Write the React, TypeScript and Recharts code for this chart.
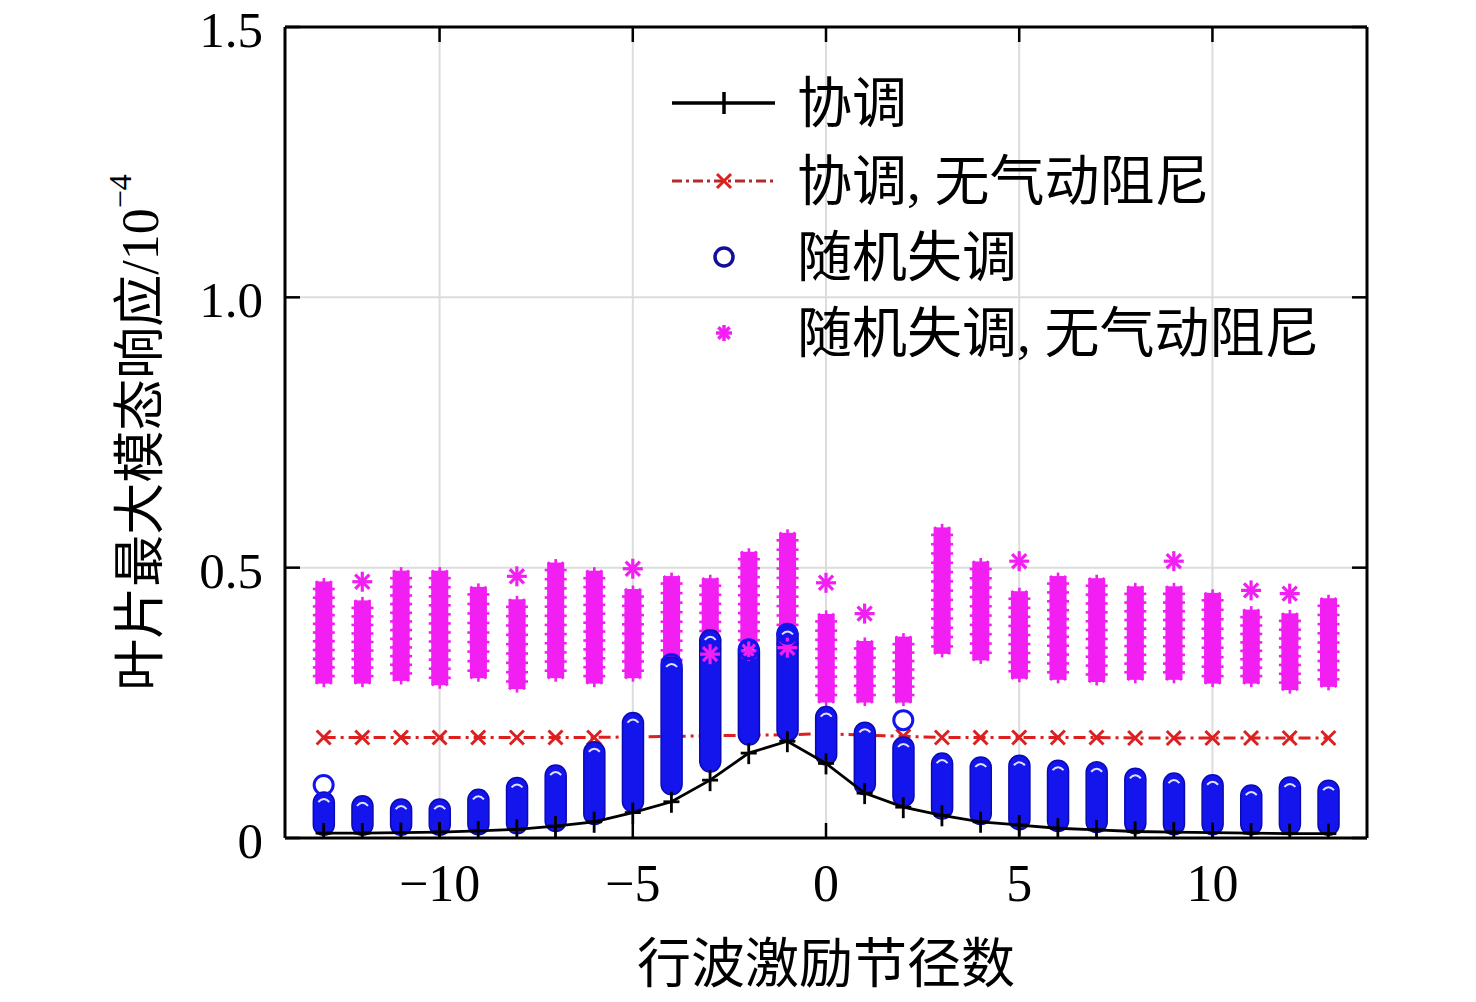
import { Bar, CartesianGrid, ComposedChart, Label, Line, Scatter, XAxis, YAxis } from "recharts";

// travelling-wave excitation nodal diameter
const NODES = [-13, -12, -11, -10, -9, -8, -7, -6, -5, -4, -3, -2, -1, 0, 1, 2, 3, 4, 5, 6, 7, 8, 9, 10, 11, 12, 13];

// 协调
const TUNED = [0.009, 0.009, 0.01, 0.011, 0.013, 0.016, 0.022, 0.03, 0.047, 0.067, 0.107, 0.157, 0.179, 0.138, 0.083, 0.057, 0.042, 0.03, 0.024, 0.018, 0.015, 0.012, 0.011, 0.01, 0.009, 0.008, 0.008];

// 协调, 无气动阻尼
const TUNED_NO_AERO = [0.186, 0.186, 0.186, 0.186, 0.186, 0.186, 0.186, 0.186, 0.187, 0.188, 0.189, 0.19, 0.191, 0.193, 0.19, 0.188, 0.186, 0.186, 0.186, 0.186, 0.186, 0.185, 0.185, 0.185, 0.185, 0.185, 0.185];

// 随机失调: spread of the samples at each node (min / max)
const MISTUNED_LO = [0.005, 0.005, 0.005, 0.005, 0.006, 0.008, 0.012, 0.025, 0.048, 0.08, 0.122, 0.172, 0.18, 0.135, 0.08, 0.058, 0.035, 0.025, 0.015, 0.012, 0.01, 0.008, 0.006, 0.006, 0.006, 0.006, 0.005];
const MISTUNED_HI = [0.085, 0.078, 0.072, 0.072, 0.09, 0.112, 0.135, 0.178, 0.232, 0.335, 0.385, 0.365, 0.395, 0.243, 0.214, 0.187, 0.157, 0.15, 0.153, 0.144, 0.141, 0.129, 0.12, 0.117, 0.098, 0.113, 0.107];

// 随机失调, 无气动阻尼
const NO_AERO_LO = [0.28, 0.28, 0.285, 0.277, 0.29, 0.27, 0.29, 0.28, 0.29, 0.31, 0.33, 0.33, 0.34, 0.245, 0.245, 0.245, 0.335, 0.323, 0.289, 0.287, 0.283, 0.287, 0.287, 0.28, 0.28, 0.268, 0.274];
const NO_AERO_HI = [0.48, 0.445, 0.5, 0.5, 0.47, 0.447, 0.515, 0.5, 0.466, 0.49, 0.486, 0.535, 0.57, 0.42, 0.37, 0.378, 0.58, 0.517, 0.462, 0.49, 0.486, 0.471, 0.471, 0.459, 0.428, 0.421, 0.449];

// isolated samples
const RING_X = [-13, 2, -4, -2, -1];
const RING_Y = [0.098, 0.218, 0.322, 0.349, 0.378];
const STAR_X = [-12, -8, -5, 0, 1, 5, 9, 11, 12, -3, -2, -1];
const STAR_Y = [0.474, 0.484, 0.498, 0.472, 0.415, 0.512, 0.512, 0.458, 0.452, 0.34, 0.346, 0.352];

const X_TICKS = [-10, -5, 0, 5, 10];
const Y_TICKS = [0, 0.5, 1, 1.5];

const LEGEND_LABELS = ["协调", "协调, 无气动阻尼", "随机失调", "随机失调, 无气动阻尼"];

const W = 1460;
const H = 986;
const FONT = '"Liberation Serif", "Times New Roman", "Noto Sans CJK SC", serif';
const BLUE = "#1414ec";
const BLUE_DARK = "#0a0ab4";
const MAGENTA = "#f21ff2";
const RED = "#dc2020";

const rows = NODES.map((node, i) => ({
  node,
  tuned: TUNED[i],
  noAero: TUNED_NO_AERO[i],
  mistuned: [MISTUNED_LO[i], MISTUNED_HI[i]],
  mistunedNoAero: [NO_AERO_LO[i], NO_AERO_HI[i]],
}));

const rings = RING_X.map((node, i) => ({ node, val: RING_Y[i] }));
const stars = STAR_X.map((node, i) => ({ node, val: STAR_Y[i] }));

const fmtX = (v: number) => (v < 0 ? `\u2212${Math.abs(v)}` : `${v}`);
const fmtY = (v: number) => (v === 0 ? "0" : v.toFixed(1));

function Star({ cx, cy, r, color = MAGENTA, w = 3 }: any) {
  const d = r * 0.707;
  return (
    <g stroke={color} strokeWidth={w}>
      <line x1={cx - r} y1={cy} x2={cx + r} y2={cy} />
      <line x1={cx} y1={cy - r} x2={cx} y2={cy + r} />
      <line x1={cx - d} y1={cy - d} x2={cx + d} y2={cy + d} />
      <line x1={cx - d} y1={cy + d} x2={cx + d} y2={cy - d} />
    </g>
  );
}

function MistunedShape(props: any) {
  const { x, y, width, height } = props;
  if (x == null || height == null) return null;
  const r = width / 2;
  const h = Math.max(height, width);
  return (
    <g>
      <rect x={x} y={y} width={width} height={h} rx={r} ry={r} fill={BLUE} stroke={BLUE_DARK} strokeWidth={1.5} />
      <path
        d={`M${x + 5},${y + 10} Q${x + r},${y + 4} ${x + width - 5},${y + 10}`}
        stroke="#dfe0ff"
        strokeWidth={2}
        fill="none"
      />
    </g>
  );
}

function NoAeroShape(props: any) {
  const { x, y, width, height } = props;
  if (x == null || height == null) return null;
  const r = width / 2;
  const cx = x + r;
  const top = y + r;
  const span = Math.max(height - width, 0);
  const n = Math.max(1, Math.round(span / 9));
  const marks = [];
  for (let i = 0; i <= n; i++) {
    marks.push(<Star key={i} cx={cx} cy={top + (span * i) / n} r={r + 0.5} w={2.6} />);
  }
  return (
    <g>
      <rect x={x + 2} y={y + 3} width={width - 4} height={Math.max(height - 6, 0)} fill={MAGENTA} />
      {marks}
    </g>
  );
}

const RingShape = (props: any) =>
  props.cx == null ? null : (
    <circle cx={props.cx} cy={props.cy} r={9.5} fill="none" stroke={BLUE} strokeWidth={3} />
  );

const StarShape = (props: any) =>
  props.cx == null ? null : <Star cx={props.cx} cy={props.cy} r={10} w={3.2} />;

const PlusDot = (props: any) => {
  const { cx, cy, index } = props;
  if (cx == null) return null;
  return (
    <g key={`p${index}`} stroke="#000" strokeWidth={2.8}>
      <line x1={cx} y1={cy - 10} x2={cx} y2={cy + 11} />
      <line x1={cx - 8} y1={cy} x2={cx + 8} y2={cy} />
    </g>
  );
};

const CrossDot = (props: any) => {
  const { cx, cy } = props;
  if (cx == null) return null;
  return (
    <g stroke={RED} strokeWidth={3}>
      <line x1={cx - 7} y1={cy - 7} x2={cx + 7} y2={cy + 7} />
      <line x1={cx - 7} y1={cy + 7} x2={cx + 7} y2={cy - 7} />
    </g>
  );
};

const BottomTick = ({ x, y, payload }: any) => (
  <g>
    <line x1={x} y1={y} x2={x} y2={y - 15} stroke="#000" strokeWidth={2.5} />
    <text x={x} y={y + 45} textAnchor="middle" dominantBaseline="central" fontSize={52} fontFamily={FONT} fill="#000">
      {fmtX(payload.value)}
    </text>
  </g>
);

const TopTick = ({ x, y }: any) => <line x1={x} y1={y} x2={x} y2={y + 15} stroke="#000" strokeWidth={2.5} />;

const LeftTick = ({ x, y, payload }: any) => (
  <g>
    <line x1={x} y1={y} x2={x + 15} y2={y} stroke="#000" strokeWidth={2.5} />
    <text x={x - 22} y={y + 3} textAnchor="end" dominantBaseline="central" fontSize={51} fontFamily={FONT} fill="#000">
      {fmtY(payload.value)}
    </text>
  </g>
);

const RightTick = ({ x, y }: any) => <line x1={x} y1={y} x2={x - 15} y2={y} stroke="#000" strokeWidth={2.5} />;

const YTitle = ({ viewBox }: any) => {
  const cx = viewBox.x + 132;
  const cy = viewBox.y + viewBox.height / 2;
  return (
    <text
      x={cx}
      y={cy}
      transform={`rotate(-90 ${cx} ${cy})`}
      textAnchor="middle"
      dominantBaseline="central"
      fontSize={52}
      fontFamily={FONT}
      fill="#000"
    >
      叶片最大模态响应/10
      <tspan dy={-20} fontSize={32}>
        −4
      </tspan>
    </text>
  );
};

const XTitle = ({ viewBox }: any) => (
  <text
    x={viewBox.x + viewBox.width / 2}
    y={viewBox.y + 127}
    textAnchor="middle"
    dominantBaseline="central"
    fontSize={54}
    fontFamily={FONT}
    fill="#000"
  >
    行波激励节径数
  </text>
);

function LegendBox() {
  const ys = [95, 173, 249, 325];
  const x0 = 664;
  const x1 = 767;
  const mx = 716;
  return (
    <svg width={W} height={H} style={{ position: "absolute", left: 0, top: 0, pointerEvents: "none" }}>
      <g>
        <line x1={x0} y1={ys[0]} x2={x1} y2={ys[0]} stroke="#000" strokeWidth={3.5} />
        <line x1={mx} y1={ys[0] - 11} x2={mx} y2={ys[0] + 11} stroke="#000" strokeWidth={3.5} />
      </g>
      <g>
        <line x1={x0} y1={ys[1]} x2={x1} y2={ys[1]} stroke="#b42a2a" strokeWidth={3} strokeDasharray="10 4 3 4" />
        <CrossDot cx={mx} cy={ys[1]} />
      </g>
      <circle cx={mx} cy={ys[2]} r={9} fill="none" stroke="#10109a" strokeWidth={3.5} />
      <Star cx={mx} cy={ys[3]} r={8} w={3.5} />
      {LEGEND_LABELS.map((t, i) => (
        <text key={t} x={789} y={ys[i]} dominantBaseline="central" fontSize={55} fontFamily={FONT} fill="#000">
          {t}
        </text>
      ))}
    </svg>
  );
}

export default function App() {
  return (
    <div style={{ position: "relative", width: W, height: H, background: "#fff" }}>
      <ComposedChart
        width={W}
        height={H}
        data={rows}
        margin={{ top: 18, right: 100, bottom: 0, left: 0 }}
        style={{ overflow: "visible" }}
      >
        <CartesianGrid xAxisId="b" yAxisId="l" stroke="#dcdcdc" strokeWidth={2} />
        <XAxis
          xAxisId="b"
          dataKey="node"
          type="number"
          domain={[-14, 14]}
          ticks={X_TICKS}
          allowDataOverflow
          height={156}
          tickSize={0}
          tickMargin={0}
          tickLine={false}
          axisLine={{ stroke: "#000", strokeWidth: 3 }}
          tick={<BottomTick />}
          interval={0}
        >
          <Label content={<XTitle />} />
        </XAxis>
        <XAxis
          xAxisId="t"
          dataKey="node"
          type="number"
          orientation="top"
          domain={[-14, 14]}
          ticks={X_TICKS}
          allowDataOverflow
          height={1}
          tickSize={0}
          tickMargin={0}
          tickLine={false}
          axisLine={{ stroke: "#000", strokeWidth: 3 }}
          tick={<TopTick />}
          interval={0}
        />
        <YAxis
          yAxisId="l"
          type="number"
          domain={[0, 1.5]}
          ticks={Y_TICKS}
          allowDataOverflow
          width={277}
          tickSize={0}
          tickMargin={0}
          tickLine={false}
          axisLine={{ stroke: "#000", strokeWidth: 3 }}
          tick={<LeftTick />}
          interval={0}
        >
          <Label content={<YTitle />} />
        </YAxis>
        <YAxis
          yAxisId="r"
          orientation="right"
          type="number"
          domain={[0, 1.5]}
          ticks={Y_TICKS}
          allowDataOverflow
          width={1}
          tickSize={0}
          tickMargin={0}
          tickLine={false}
          axisLine={{ stroke: "#000", strokeWidth: 3 }}
          tick={<RightTick />}
          interval={0}
        />

        <Bar
          xAxisId="t"
          yAxisId="r"
          dataKey="mistunedNoAero"
          barSize={21}
          fill={MAGENTA}
          shape={<NoAeroShape />}
          isAnimationActive={false}
        />
        {/* red dash-dot and its markers go below the blue columns */}
        <Line
          xAxisId="b"
          yAxisId="l"
          dataKey="noAero"
          type="linear"
          stroke={RED}
          strokeWidth={3}
          strokeDasharray="12 5 3 5"
          dot={false}
          activeDot={false}
          isAnimationActive={false}
          {...({ zIndex: 250 } as any)}
        />
        <Scatter
          xAxisId="b"
          yAxisId="l"
          dataKey="noAero"
          shape={<CrossDot />}
          isAnimationActive={false}
          {...({ zIndex: 260 } as any)}
        />
        <Bar
          xAxisId="b"
          yAxisId="l"
          dataKey="mistuned"
          barSize={21}
          fill={BLUE}
          shape={<MistunedShape />}
          isAnimationActive={false}
        />
        <Scatter xAxisId="b" yAxisId="l" data={stars} dataKey="val" shape={<StarShape />} isAnimationActive={false} />
        <Scatter xAxisId="b" yAxisId="l" data={rings} dataKey="val" shape={<RingShape />} isAnimationActive={false} />
        <Line
          xAxisId="b"
          yAxisId="l"
          dataKey="tuned"
          type="linear"
          stroke="#000"
          strokeWidth={2.8}
          dot={<PlusDot />}
          activeDot={false}
          isAnimationActive={false}
        />
      </ComposedChart>
      <LegendBox />
    </div>
  );
}
